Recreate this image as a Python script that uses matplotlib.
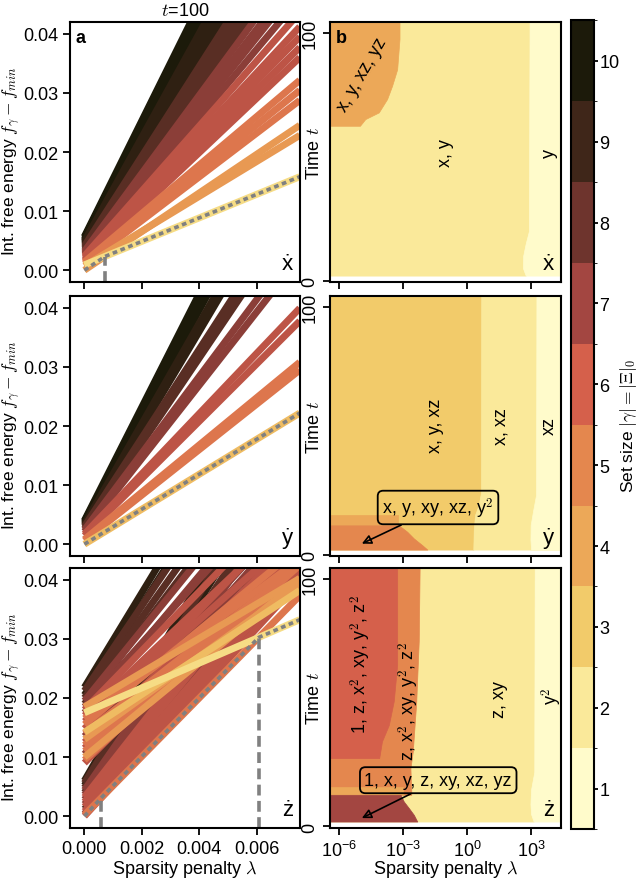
import numpy as np
import matplotlib
matplotlib.use("Agg")
import matplotlib.pyplot as plt
from matplotlib.colors import ListedColormap, BoundaryNorm, LinearSegmentedColormap
from matplotlib.cm import ScalarMappable
from matplotlib.ticker import NullLocator

# colour of each set size 1..10
set_sizes = [1, 2, 3, 4, 5, 6, 7, 8, 9, 10]
set_colors = ["#fffbcb", "#fae99a", "#f2cb6a", "#eca858", "#e4874e",
              "#d5604b", "#a34641", "#6e342d", "#3f2619", "#1c1a0a"]

# panel a: each model gamma is a line f0 + slope * lambda  (read at t=100)
x_size = [10, 10, 10, 10, 9, 9, 9, 9, 8, 8, 8, 8, 7, 7, 7, 7, 6, 6, 6, 6, 6, 5, 5, 5, 4, 4, 2]
x_f0 = [0.0057, 0.0055, 0.0052, 0.0050, 0.0049, 0.0047, 0.0045, 0.0043, 0.0041, 0.0039,
        0.0037, 0.0034, 0.0032, 0.0030, 0.0028, 0.0026, 0.0024, 0.0022, 0.0020, 0.0017,
        0.0015, 0.0014, 0.0012, 0.0010, 0.0007, 0.0000, 0.0009]
x_slope = [9.8, 9.5, 9.3, 9.0, 8.8, 8.4, 8.1, 7.9, 7.6, 7.3, 7.0, 6.8, 6.6, 6.3, 6.1, 5.8,
           5.5, 5.2, 5.0, 4.8, 4.6, 4.1, 3.9, 3.7, 2.95, 3.27, 1.99]

y_size = [10, 10, 10, 9, 9, 8, 8, 7, 7, 6, 6, 5, 5, 3]
y_f0 = [0.0040, 0.0038, 0.0036, 0.0034, 0.0032, 0.0030, 0.0027, 0.0024, 0.0021,
        0.0017, 0.0014, 0.0008, 0.0006, 0.0000]
y_slope = [9.6, 9.3, 9.0, 8.5, 8.2, 7.5, 7.2, 6.5, 6.2, 5.1, 4.85, 4.0, 3.85, 2.96]

z_size = [9, 8, 9, 8, 7, 8, 7, 6, 7, 6, 5, 6, 4, 5, 3, 6, 5, 7, 4, 6, 5, 6, 5, 7, 4, 5, 6, 2,
          9, 8, 9, 8, 7, 8, 7, 6, 7, 6, 7, 6, 8, 6, 7, 6, 5]
z_f0 = [0.0218, 0.0212, 0.0205, 0.0200, 0.0195, 0.0190, 0.0185, 0.0180, 0.0175, 0.0170,
        0.0165, 0.0160, 0.0185, 0.0155, 0.0142, 0.0148, 0.0140, 0.0135, 0.0130, 0.0125,
        0.0120, 0.0115, 0.0110, 0.0105, 0.0100, 0.0095, 0.0090, 0.0175,
        0.0060, 0.0056, 0.0052, 0.0048, 0.0044, 0.0040, 0.0036, 0.0032, 0.0028, 0.0024,
        0.0020, 0.0016, 0.0012, 0.0008, 0.0004, 0.0000, 0.0002]
z_slope = [8.0, 7.2, 7.6, 6.8, 6.0, 6.4, 5.4, 5.0, 5.8, 4.6, 3.6, 4.3, 2.9, 4.0, 3.2, 5.0,
           3.8, 5.2, 3.5, 4.6, 4.1, 4.8, 3.9, 5.4, 4.0, 4.4, 4.9, 2.1,
           8.4, 8.0, 7.8, 7.4, 7.0, 7.2, 6.6, 6.2, 6.4, 5.9, 5.8, 5.6, 5.7, 5.45, 5.5, 5.3, 4.95]

# panel b: region edges, log10(lambda) read at several times t
L_EDGE, R_EDGE = -7.0, 5.0
tx_12 = [2, 5, 10, 15, 20, 104.4]
lx_12 = [2.75, 2.62, 2.63, 2.75, 2.90, 2.93]
tx_4 = [62.5, 65.2, 67.9, 73.3, 78.6, 85.3, 97.6, 104.4]
lx_4 = [-5.0, -4.75, -4.12, -3.73, -3.50, -3.26, -3.15, -3.15]

ty_23 = [2, 10, 16, 20, 25, 104.4]
ly_23 = [0.30, 0.32, 0.38, 0.55, 0.66, 0.67]
ty_12 = [2, 6, 12, 18, 24, 104.4]
ly_12 = [3.0, 2.97, 2.98, 3.1, 3.23, 3.25]
ty_4 = [11.8, 15.9]
ly_4 = [-3.2, -3.2]
ty_5 = [2.0, 3.8, 6.5, 9.2, 11.8]
ly_5 = [-1.85, -2.09, -2.48, -2.79, -3.18]

tz_12 = [2, 5, 9, 15, 22, 104.4]
lz_12 = [3.12, 3.0, 2.97, 3.0, 3.15, 3.17]
tz_5 = [12.8, 16.1, 18.1, 23.5, 30.3, 50, 75, 104.4]
lz_5 = [-2.6, -2.6, -2.62, -2.64, -2.53, -2.37, -2.25, -2.21]
tz_6 = [27.6, 34.4, 41, 50.6, 65.3, 104.4]
lz_6 = [-4.1, -3.97, -3.65, -3.42, -3.26, -3.26]
tz_4 = [12.8, 16.1]
lz_4 = [-3.0, -3.0]
tz_7 = [2, 4.7, 7.4, 10.1, 12.8]
lz_7 = [-2.32, -2.48, -2.71, -2.95, -3.10]

x_regions = [(2, tx_12, L_EDGE, lx_12), (1, tx_12, lx_12, R_EDGE), (4, tx_4, L_EDGE, lx_4)]
y_regions = [(3, ty_23, L_EDGE, ly_23), (2, ty_23, ly_23, R_EDGE), (1, ty_12, ly_12, R_EDGE),
             (4, ty_4, L_EDGE, ly_4), (5, ty_5, L_EDGE, ly_5)]
z_regions = [(2, tz_12, L_EDGE, lz_12), (1, tz_12, lz_12, R_EDGE), (5, tz_5, L_EDGE, lz_5),
             (6, tz_6, L_EDGE, lz_6), (4, tz_4, L_EDGE, lz_4), (7, tz_7, L_EDGE, lz_7)]

plt.rcParams["font.family"] = ["Liberation Sans", "DejaVu Sans"]
plt.rcParams["mathtext.fontset"] = "cm"
plt.rcParams["font.size"] = 13
plt.rcParams["axes.linewidth"] = 1.5
plt.rcParams["xtick.major.width"] = 1.3
plt.rcParams["ytick.major.width"] = 1.3
plt.rcParams["xtick.major.size"] = 5
plt.rcParams["ytick.major.size"] = 5

line_cmap = LinearSegmentedColormap.from_list("sets", set_colors)

fig = plt.figure(figsize=(6.4, 8.79), dpi=100)
row_bottom = [0.678, 0.3663, 0.0569]
row_h = 0.2958
axL = [fig.add_axes([0.1094, b, 0.359, row_h]) for b in row_bottom]
axR = [fig.add_axes([0.5156, b, 0.361, row_h]) for b in row_bottom]
cax = fig.add_axes([0.892, 0.0557, 0.036, 0.920])

dots = ["ẋ", "ẏ", "ż"]
lam = np.linspace(0, 0.0076, 1521)
ybot = -0.002

left_data = [(x_size, x_f0, x_slope), (y_size, y_f0, y_slope), (z_size, z_f0, z_slope)]
for r, (ax, (size, f0, slope)) in enumerate(zip(axL, left_data)):
    size = np.array(size)
    f0 = np.array(f0)
    slope = np.array(slope)
    for i in np.argsort(-size, kind="stable"):
        c = line_cmap(min((size[i] - 1 + 0.45) / 9, 1.0))
        ax.plot(lam, f0[i] + slope[i] * lam, color=c, lw=5, solid_capstyle="butt")
    F = f0[:, None] + slope[:, None] * lam[None, :]
    env = F.min(axis=0)
    best = F.argmin(axis=0)
    ax.plot(lam, env, color="#808080", lw=2.6, ls=(0, (1.3, 1.0)))
    for k in np.nonzero(np.diff(best))[0] + 1:
        ax.plot([lam[k], lam[k]], [ybot, env[k]], color="#808080", lw=2.6, ls=(0, (3, 1.5)))
    ax.set_xlim(-0.0005, 0.0075)
    ax.set_ylim(ybot, 0.042)
    ax.set_xticks([0, 0.002, 0.004, 0.006])
    ax.set_yticks([0, 0.01, 0.02, 0.03, 0.04])
    ax.set_ylabel(r"Int. free energy $f_\gamma - f_{min}$", fontsize=12.5)
    ax.yaxis.set_label_coords(-0.205, 0.47)
    ax.text(0.97, 0.03, dots[r], transform=ax.transAxes, ha="right", va="bottom", fontsize=16)
    if r < 2:
        ax.tick_params(labelbottom=False)
    else:
        ax.set_xlabel(r"Sparsity penalty $\lambda$")
        ax.xaxis.set_label_coords(0.5, -0.115)

axL[0].set_title(r"$t$=100", fontsize=13, pad=5)
axL[0].text(0.025, 0.975, "a", transform=axL[0].transAxes, ha="left", va="top",
            fontweight="bold", fontsize=13)

for r, (ax, regions) in enumerate(zip(axR, [x_regions, y_regions, z_regions])):
    for size, t, lo, hi in regions:
        c = set_colors[size - 1]
        ax.fill_betweenx(t, 10.0 ** np.asarray(lo), 10.0 ** np.asarray(hi),
                         color=c, ec=c, lw=0.5)
    ax.set_xscale("log")
    ax.set_xlim(10 ** -6.4, 10 ** 4.4)
    ax.set_ylim(-0.6, 104.4)
    ax.set_xticks([1e-6, 1e-3, 1e0, 1e3])
    ax.xaxis.set_minor_locator(NullLocator())
    ax.set_yticks([0, 100])
    for lab in ax.get_yticklabels():
        lab.set_rotation(90)
        lab.set_va("center")
    ax.set_ylabel(r"Time $t$")
    ax.yaxis.set_label_coords(-0.03, 0.5)
    ax.text(0.97, 0.03, dots[r], transform=ax.transAxes, ha="right", va="bottom", fontsize=16)
    if r < 2:
        ax.tick_params(labelbottom=False)
    else:
        ax.set_xlabel(r"Sparsity penalty $\lambda$")
        ax.xaxis.set_label_coords(0.5, -0.115)

axR[0].text(0.025, 0.975, "b", transform=axR[0].transAxes, ha="left", va="top",
            fontweight="bold", fontsize=13)

# region names
axR[0].text(10 ** -4.91, 83.3, "x, y, xz, yz", rotation=60, ha="center", va="center")
axR[0].text(10 ** -0.98, 51.7, "x, y", rotation=90, ha="center", va="center")
axR[0].text(10 ** 3.87, 51.7, "y", rotation=90, ha="center", va="center")

axR[1].text(10 ** -1.45, 52.2, "x, y, xz", rotation=90, ha="center", va="center")
axR[1].text(10 ** 1.6, 52.2, "x, xz", rotation=90, ha="center", va="center")
axR[1].text(10 ** 3.87, 52.2, "xz", rotation=90, ha="center", va="center")

sq = r"$^\mathsf{2}$"
axR[2].text(10 ** -4.98, 66, "1, z, x" + sq + ", xy, y" + sq + ", z" + sq, rotation=90,
            ha="center", va="center")
axR[2].text(10 ** -2.72, 51.1, "z, x" + sq + ", xy, y" + sq + ", z" + sq, rotation=90,
            ha="center", va="center")
axR[2].text(10 ** 1.53, 51.8, "z, xy", rotation=90, ha="center", va="center")
axR[2].text(10 ** 3.95, 53, "y" + sq, rotation=90, ha="center", va="center")

box = dict(boxstyle="round,pad=0.25,rounding_size=0.3", fc="none", ec="k", lw=1.3)
arrow = dict(arrowstyle="-|>", fc="none", ec="k", lw=1.2, shrinkA=0, shrinkB=0,
             mutation_scale=14)
axR[1].annotate("x, y, xy, xz, y" + sq, xy=(10 ** -4.91, 4.4), xytext=(10 ** -1.35, 19),
                ha="center", va="center", bbox=box, arrowprops=arrow)
axR[2].annotate("1, x, y, z, xy, xz, yz", xy=(10 ** -4.91, 3.4), xytext=(10 ** -1.34, 18.7),
                ha="center", va="center", bbox=box, arrowprops=arrow)

sm = ScalarMappable(norm=BoundaryNorm(np.arange(0.5, 11.5, 1.0), 10),
                    cmap=ListedColormap(set_colors))
cb = fig.colorbar(sm, cax=cax, ticks=set_sizes)
cb.ax.tick_params(length=3, pad=1)
cb.set_label(r"Set size $|\gamma| = |\Xi|_0$", fontsize=12.5, labelpad=-1)
cb.outline.set_linewidth(1.5)

fig.savefig("out.png", dpi=100)
